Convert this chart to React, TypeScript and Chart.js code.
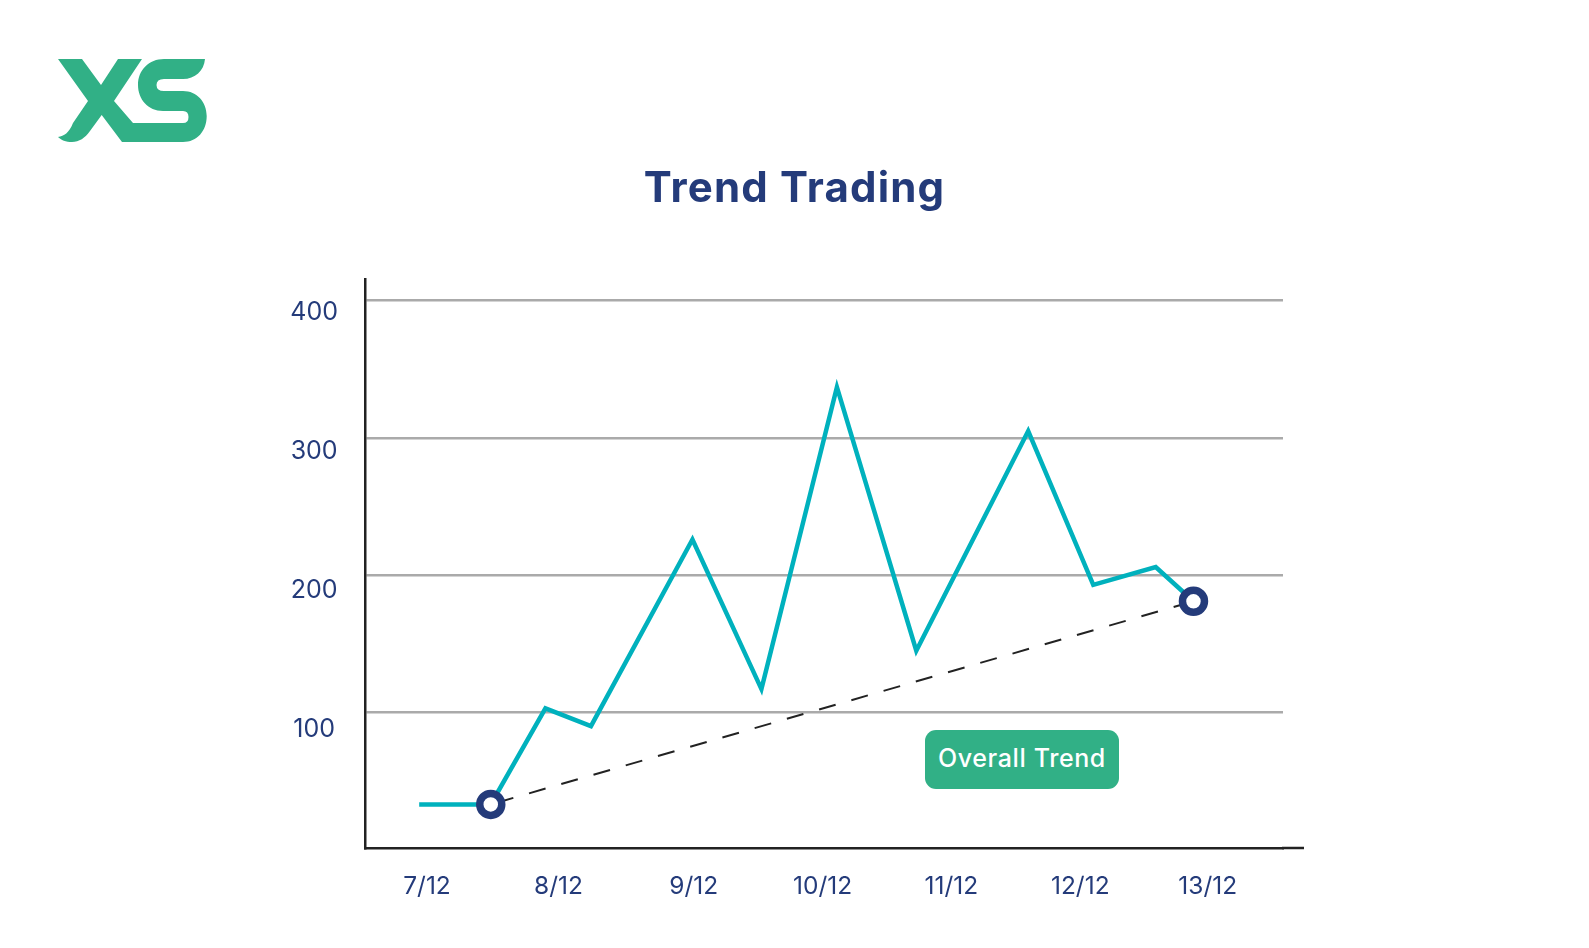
import React, { useEffect, useRef } from "react";
import { Chart, registerables } from "chart.js";

Chart.register(...registerables);

const NAVY = "#243b7a";
const GREEN = "#31b086";
const TEAL = "#00b1bd";
const AXIS = "#222222";
const FONT = "Inter, sans-serif";

// day of december
const priceDays = [6.94, 7.49, 7.91, 8.26, 9.04, 9.57, 10.15, 10.76, 11.62, 12.12, 12.6, 12.89];
const priceValues = [33, 33, 103, 90, 226, 117, 337, 145, 305, 193, 206, 181];
const trendDays = [7.49, 12.89];
const trendValues = [33, 181];
// the date labels are not quite evenly spaced in the picture
const dayTicks = [7, 8.01, 9.05, 10.04, 11.03, 12.02, 13];
const dayLabels = ["7/12", "8/12", "9/12", "10/12", "11/12", "12/12", "13/12"];
const valueTicks = [100, 200, 300, 400];

const toPoints = (xs: number[], ys: number[]) => xs.map((x, i) => ({ x, y: ys[i] }));

// x axis line runs a bit past the end of the grid lines
const axisOvershoot = {
  id: "axisOvershoot",
  afterDraw(chart: Chart) {
    const { ctx, chartArea } = chart;
    ctx.save();
    ctx.strokeStyle = AXIS;
    ctx.lineWidth = 2.5;
    ctx.beginPath();
    ctx.moveTo(chartArea.right - 1, chartArea.bottom);
    ctx.lineTo(chartArea.right + 21, chartArea.bottom);
    ctx.stroke();
    ctx.restore();
  },
};

const App = () => {
  const chartRef = useRef<HTMLCanvasElement | null>(null);

  useEffect(() => {
    const ctx = chartRef.current?.getContext("2d");
    if (!ctx) return;

    const chart = new Chart(ctx, {
      type: "line",
      plugins: [axisOvershoot],
      data: {
        datasets: [
          {
            label: "Overall Trend",
            data: toPoints(trendDays, trendValues),
            borderColor: AXIS,
            borderWidth: 2,
            borderDash: [17.2, 16.35],
            borderDashOffset: 27.25,
            pointRadius: 11,
            pointBorderWidth: 7.5,
            pointBorderColor: NAVY,
            pointBackgroundColor: "#ffffff",
            order: 1,
          },
          {
            label: "Price",
            data: toPoints(priceDays, priceValues),
            borderColor: TEAL,
            borderWidth: 4.5,
            borderJoinStyle: "miter",
            pointRadius: 0,
            tension: 0,
            order: 2,
          },
        ],
      },
      options: {
        responsive: false,
        animation: false,
        layout: { padding: { top: 279, right: 306 } },
        plugins: {
          legend: { display: false },
          tooltip: { enabled: false },
        },
        scales: {
          x: {
            type: "linear",
            min: 6.5236,
            max: 13.578,
            afterBuildTicks: (scale) => {
              scale.ticks = dayTicks.map((value) => ({ value }));
            },
            afterFit: (scale) => {
              scale.height = 100;
            },
            grid: { display: false, drawTicks: false },
            border: { color: AXIS, width: 2.5 },
            ticks: {
              color: NAVY,
              padding: 24,
              maxRotation: 0,
              autoSkip: false,
              font: { family: FONT, size: 24.5 },
              callback: (_value, index) => dayLabels[index],
            },
          },
          y: {
            position: "left",
            weight: 0,
            min: 1.25,
            max: 415.8,
            afterBuildTicks: (scale) => {
              scale.ticks = valueTicks.map((value) => ({ value }));
            },
            afterFit: (scale) => {
              scale.width = 0;
            },
            grid: { color: "#aaaaaa", lineWidth: 2.5, drawTicks: false },
            border: { color: AXIS, width: 2.5 },
            ticks: { display: false },
          },
          // tick labels sit below their grid lines and are spaced a bit wider
          yLabels: {
            type: "linear",
            position: "left",
            weight: 1,
            min: 14.4,
            max: 424.3,
            afterBuildTicks: (scale) => {
              scale.ticks = valueTicks.map((value) => ({ value }));
            },
            afterFit: (scale) => {
              scale.width = 365;
            },
            grid: { display: false, drawTicks: false },
            border: { display: false },
            ticks: {
              color: NAVY,
              padding: 27,
              crossAlign: "center",
              autoSkip: false,
              font: { family: FONT, size: 25 },
            },
          },
        },
      },
    });

    return () => chart.destroy();
  }, []);

  return (
    <div style={{ position: "absolute", left: 0, top: 0, width: 1589, height: 948, background: "#fff", fontFamily: FONT }}>
      <canvas ref={chartRef} width={1589} height={948} style={{ position: "absolute", left: 0, top: 0 }}></canvas>
      <svg width={1589} height={948} style={{ position: "absolute", left: 0, top: 0 }}>
        <path
          fill={GREEN}
          d="M58 59 H82 L101 85 L118 59 H142 L114 101 L133 123 H183 Q188.5 123 188.5 117 Q188.5 111 183 111 H163 C148 111 138 99 138 85 C138 70 149 59 164 59 H205 C204 71 195 79 183 79 H164 Q156.5 79 156.5 85 Q156.5 91 164 91 H183 C197 91 206.7 102 206.7 116 C206.7 131 197 142 183 142 H122 L101.7 115 L90 131 C85 138 79 142 72 142 C66 142 61 140 58 137 C64 136 69 133 73 123 L88 101 Z"
        />
      </svg>
      <div
        style={{
          position: "absolute",
          left: 0,
          width: 1589,
          top: 159,
          textAlign: "center",
          fontSize: 42,
          letterSpacing: 1.15,
          lineHeight: "56px",
          fontWeight: 700,
          color: NAVY,
        }}
      >
        Trend Trading
      </div>
      <div
        style={{
          position: "absolute",
          left: 925,
          top: 730,
          width: 194,
          height: 59,
          borderRadius: 11,
          background: GREEN,
          color: "#fff",
          textAlign: "center",
          fontSize: 25,
          letterSpacing: 0.6,
          fontWeight: 500,
          lineHeight: "57px",
        }}
      >
        Overall Trend
      </div>
    </div>
  );
};

export default App;
